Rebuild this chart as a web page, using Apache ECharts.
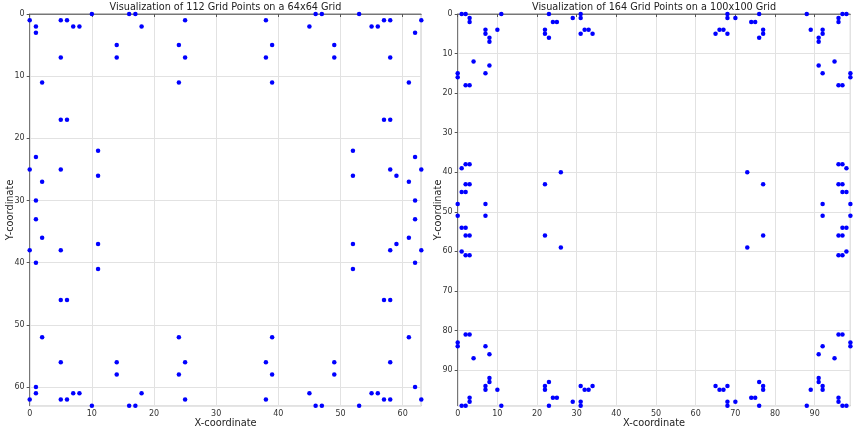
<!DOCTYPE html>
<html>
<head>
<meta charset="utf-8">
<title>Grid Points</title>
<script src="https://cdn.jsdelivr.net/npm/echarts@6/dist/echarts.min.js"></script>
<style>
  html, body { margin: 0; padding: 0; background: #fff; }
  #chart { width: 853px; height: 428px; }
</style>
</head>
<body>
<div id="chart"></div>
<script>
// 64x64 网格上的点 [x, y]
const pointsSmall = [
  [0,1],[1,2],[1,3],[5,1],[6,1],[7,2],[8,2],[10,0],[16,0],[17,0],[18,2],[25,1],[14,5],[14,7],
  [24,5],[25,7],[5,7],[2,11],[24,11],[5,17],[6,17],[11,22],[11,26],[1,23],[0,25],[5,25],[2,27],[1,30],
  [38,1],[46,0],[47,0],[53,0],[57,1],[58,1],[63,1],[45,2],[55,2],[56,2],[62,3],[39,5],[49,5],[38,7],
  [49,7],[58,7],[39,11],[61,11],[57,17],[58,17],[52,22],[62,23],[58,25],[63,25],[59,26],[52,26],[61,27],[62,30],
  [1,33],[2,36],[0,38],[5,38],[11,37],[1,40],[11,41],[5,46],[6,46],[2,52],[24,52],[5,56],[14,56],[25,56],
  [14,58],[24,58],[1,60],[1,61],[7,61],[8,61],[18,61],[0,62],[5,62],[6,62],[25,62],[10,63],[16,63],[17,63],
  [62,33],[61,36],[52,37],[59,37],[58,38],[63,38],[62,40],[52,41],[57,46],[58,46],[39,52],[61,52],[38,56],[49,56],
  [58,56],[39,58],[49,58],[62,60],[45,61],[55,61],[56,61],[38,62],[57,62],[58,62],[63,62],[46,63],[47,63],[53,63]
];

// 100x100 网格上的点 [x, y]
const pointsLarge = [
  [1,0],[2,0],[3,1],[3,2],[11,0],[7,4],[7,5],[8,6],[8,7],[10,4],[4,12],[8,13],[0,15],[0,16],[7,15],
  [2,18],[3,18],[22,4],[22,5],[23,0],[23,6],[24,2],[25,2],[29,1],[31,0],[31,1],[31,5],[32,4],[33,4],[34,5],
  [1,39],[2,38],[3,38],[2,43],[3,43],[1,45],[2,45],[0,48],[7,48],[26,40],[22,43],
  [68,0],[68,1],[70,1],[76,0],[74,2],[75,2],[65,5],[66,4],[67,4],[68,5],[77,4],[77,5],[76,6],[88,0],
  [89,4],[91,6],[91,7],[92,4],[92,5],[96,1],[96,2],[97,0],[98,0],[91,13],[92,15],[95,12],[96,18],[97,18],
  [99,15],[99,16],[73,40],[77,43],[96,38],[97,38],[98,39],[96,43],[97,43],[97,45],[98,45],[92,48],[99,48],
  [0,51],[7,51],[1,54],[2,54],[2,56],[3,56],[1,60],[2,61],[3,61],[22,56],[26,59],
  [2,81],[3,81],[0,83],[0,84],[7,84],[8,86],[4,87],[8,92],[8,93],[7,94],[7,95],[10,95],[3,97],[3,98],
  [1,99],[2,99],[11,99],[22,94],[22,95],[23,93],[23,99],[24,97],[25,97],[29,98],[31,94],[31,98],[31,99],
  [32,95],[33,95],[34,94],
  [92,51],[99,51],[97,54],[98,54],[96,56],[97,56],[77,56],[73,59],[96,61],[97,61],[98,60],
  [96,81],[97,81],[99,83],[99,84],[92,84],[91,86],[95,87],[91,92],[91,93],[92,94],[92,95],[89,95],
  [96,97],[96,98],[97,99],[98,99],[88,99],
  [65,94],[66,95],[67,95],[68,94],[68,98],[68,99],[70,98],[74,97],[75,97],[76,93],[77,94],[77,95],[76,99]
];

const titles = [
  'Visualization of 112 Grid Points on a 64x64 Grid',
  'Visualization of 164 Grid Points on a 100x100 Grid'
];
const axisMax = [63, 99];

const FONT = 'DejaVu Sans';

// 两个子图的位置
const grids = [
  { left: 29.7, top: 14, width: 391.6, height: 391.7 },
  { left: 457.7, top: 14, width: 392.7, height: 391.7 }
];

function makeAxis(i, isY) {
  return {
    type: 'value',
    gridIndex: i,
    min: 0,
    max: axisMax[i],
    interval: 10,
    inverse: isY,
    name: isY ? 'Y-coordinate' : 'X-coordinate',
    nameLocation: 'middle',
    nameMoveOverlap: false,
    nameGap: isY ? 14 : 13,
    nameTextStyle: { fontFamily: FONT, fontSize: 9.8, color: '#222' },
    axisLine: { show: true, lineStyle: { color: '#777', width: 1 } },
    axisTick: { show: true, length: 3, lineStyle: { color: '#555' } },
    axisLabel: {
      fontFamily: FONT, fontSize: 8, color: '#333', margin: isY ? 5 : 4,
      showMaxLabel: false
    },
    splitLine: { show: true, lineStyle: { color: '#e2e2e2', width: 1 } }
  };
}

const chart = echarts.init(document.getElementById('chart'), null, { renderer: 'canvas' });

chart.setOption({
  animation: false,
  backgroundColor: '#fff',
  grid: grids.map(g => Object.assign({
    show: true, borderColor: '#777', borderWidth: 1,
    containLabel: false, outerBoundsMode: 'none'
  }, g)),
  xAxis: [makeAxis(0, false), makeAxis(1, false)],
  yAxis: [makeAxis(0, true), makeAxis(1, true)],
  graphic: titles.map((t, i) => ({
    type: 'text',
    x: grids[i].left + grids[i].width / 2,
    y: 7,
    style: {
      text: t, fontFamily: FONT, fontSize: 9.7, fill: '#222',
      align: 'center', verticalAlign: 'middle'
    }
  })),
  series: [pointsSmall, pointsLarge].map((pts, i) => ({
    type: 'scatter',
    xAxisIndex: i,
    yAxisIndex: i,
    data: pts,
    symbol: 'circle',
    symbolSize: 4.5,
    clip: false,
    itemStyle: { color: '#0000ff', opacity: 1 }
  }))
});
</script>
</body>
</html>
